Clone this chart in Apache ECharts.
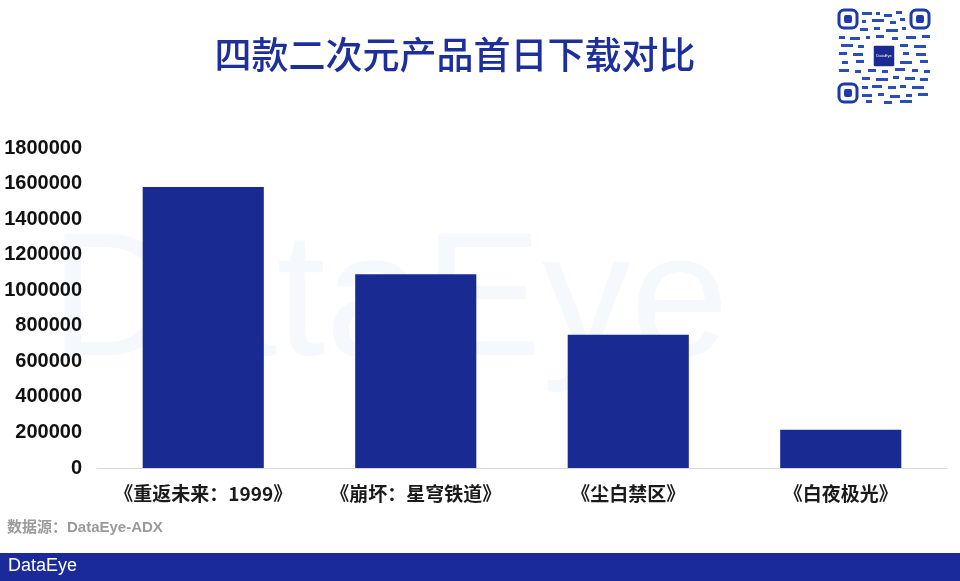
<!DOCTYPE html>
<html>
<head>
<meta charset="utf-8">
<script src="https://cdn.jsdelivr.net/npm/echarts@6/dist/echarts.min.js"></script>
<style>
html,body{margin:0;padding:0;background:#fff;}
#c{width:960px;height:581px;}
</style>
</head>
<body>
<div id="c"></div>
<script>
var categories = ['《重返未来：1999》', '《崩坏：星穹铁道》', '《尘白禁区》', '《白夜极光》'];
var downloads = [1580000, 1090000, 750000, 215000];
var yTicks = [0, 200000, 400000, 600000, 800000, 1000000, 1200000, 1400000, 1600000, 1800000];
var titleText = '四款二次元产品首日下载对比';
var sourceText = '数据源：DataEye-ADX';

var BLUE = '#1a2a93';
var chart = echarts.init(document.getElementById('c'));

// QR-like decoration (finder patterns + centre logo)
function finder(x, y) {
  return [
    {type:'rect', shape:{x:x, y:y, width:18, height:18, r:5}, style:{fill:'none', stroke:'#1f3aa6', lineWidth:3}, silent:true},
    {type:'rect', shape:{x:x+5, y:y+5, width:8, height:8, r:2}, style:{fill:'#1f3aa6'}, silent:true}
  ];
}
var qr = [].concat(finder(839, 10), finder(911, 10), finder(839, 84));
var qrDots = [
  [862,12,10,3],[876,12,4,3],[884,14,8,3],[896,11,6,3],[862,20,4,3],[872,19,12,3],[890,21,6,3],[900,18,5,3],
  [860,28,8,3],[874,27,6,3],[886,29,12,3],[902,27,4,3],[839,36,6,3],[850,37,10,3],[866,36,4,3],[876,35,8,3],
  [892,37,6,3],[906,36,10,3],[922,35,8,3],[841,44,12,3],[858,45,6,3],[900,44,8,3],[914,45,12,3],[839,52,8,3],
  [853,53,10,3],[903,52,6,3],[916,53,10,3],[842,61,6,3],[856,60,8,3],[900,61,12,3],[920,60,8,3],[839,69,10,3],
  [855,70,6,3],[868,69,8,3],[882,70,6,3],[895,68,10,3],[912,69,6,3],[924,70,6,3],[862,77,8,3],[876,78,12,3],
  [893,76,6,3],[905,77,10,3],[920,78,8,3],[862,86,6,3],[872,85,10,3],[888,86,8,3],[900,85,6,3],[912,86,12,3],
  [862,94,10,3],[878,93,6,3],[890,95,10,3],[906,94,6,3],[918,93,10,3],[866,100,6,3],[884,101,8,3],[900,100,12,3]
];
qrDots.forEach(function(d){
  qr.push({type:'rect', shape:{x:d[0], y:d[1], width:d[2], height:d[3]}, style:{fill:'#2b4db8'}, silent:true});
});
qr.push({type:'rect', shape:{x:873, y:45, width:22, height:22, r:2}, style:{fill:'#1a2a93', stroke:'#fff', lineWidth:1.5}, silent:true});
qr.push({type:'text', x:884, y:56, style:{text:'DataEye', fill:'#fff', font:'4px Arial', align:'center', verticalAlign:'middle'}, silent:true});

var option = {
  backgroundColor: '#fff',
  animation: false,
  title: {
    text: titleText,
    left: 450,
    top: 31,
    textAlign: 'center',
    textStyle: {color: '#1d2f9b', fontSize: 37, fontWeight: 500, fontFamily: '"Noto Sans CJK SC", sans-serif'}
  },
  grid: {left: 97, right: 13, top: 148, bottom: 113, containLabel: false, outerBoundsMode: 'none'},
  xAxis: {
    type: 'category',
    data: categories,
    axisLine: {show: true, lineStyle: {color: '#d9d9d9', width: 1}},
    axisTick: {show: false},
    axisLabel: {interval: 0, color: '#1a1a1a', fontSize: 19, fontWeight: 'bold', margin: 16, fontFamily: '"Noto Sans CJK SC", "Liberation Sans", sans-serif'}
  },
  yAxis: {
    type: 'value',
    min: yTicks[0],
    max: yTicks[yTicks.length - 1],
    interval: 200000,
    splitLine: {show: false},
    axisLine: {show: false},
    axisTick: {show: false},
    axisLabel: {color: '#111', fontSize: 20, fontWeight: 'bold', margin: 15, fontFamily: '"Liberation Sans", Arial, sans-serif',
      formatter: function (v) { return String(v); }}
  },
  series: [{
    type: 'bar',
    data: downloads,
    barWidth: '57%',
    itemStyle: {color: BLUE},
    z: 5
  }],
  graphic: [
    {type:'text', left: 50, top: 218, z: -10, silent:true,
     style:{text:'DataEye', fill:'#f5f8fd', font:'177px "Liberation Sans", Arial, sans-serif'}},
    {type:'text', left: 7, top: 520, silent:true,
     style:{text: sourceText, fill:'#9a9a9a', font:'bold 15px "Liberation Sans", "Noto Sans CJK SC", sans-serif'}},
    {type:'rect', left: 0, top: 553, silent:true, shape:{width:960, height:28}, style:{fill:'#1a2a98'}},
    {type:'text', left: 8, top: 557, silent:true,
     style:{text:'DataEye', fill:'#fff', font:'18px "Liberation Sans", Arial, sans-serif'}}
  ].concat(qr)
};
chart.setOption(option);
</script>
</body>
</html>
